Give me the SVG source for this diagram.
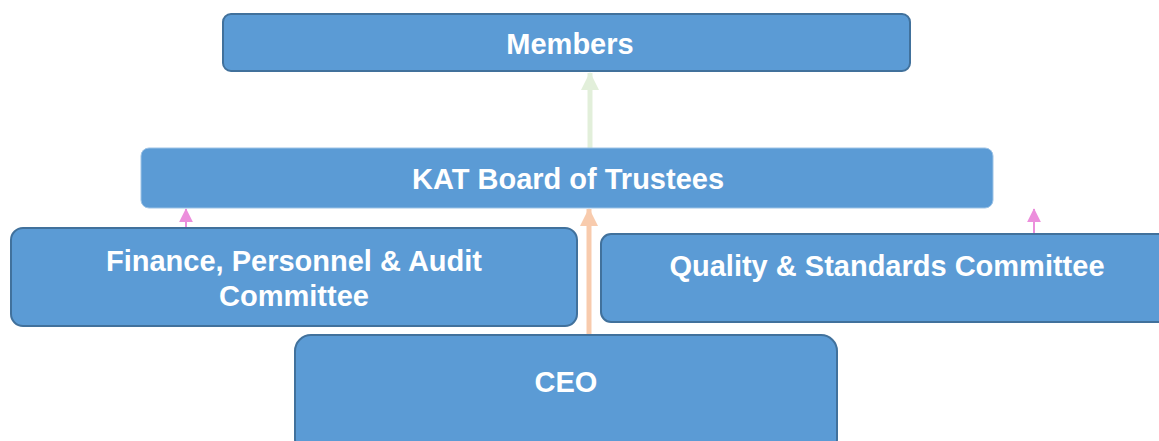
<svg xmlns="http://www.w3.org/2000/svg" width="1159" height="441" viewBox="0 0 1159 441">
<style>
.box{fill:#5b9bd5;stroke:#41719c;stroke-width:2}
.board{fill:#5b9bd5;stroke:#9dc3e6;stroke-width:1}
.t{font-family:"Liberation Sans",Arial,sans-serif;font-weight:bold;font-size:29px;fill:#fff;text-anchor:middle}
</style>
<defs>
<marker id="hg" markerWidth="3.6" markerHeight="3.6" refX="3.4" refY="1.8" orient="auto" markerUnits="strokeWidth" viewBox="0 0 3.6 3.6"><path d="M0,0L3.6,1.8L0,3.6z" fill="#e2efda"/></marker>
<marker id="ho" markerWidth="3.6" markerHeight="3.6" refX="3.4" refY="1.8" orient="auto" markerUnits="strokeWidth" viewBox="0 0 3.6 3.6"><path d="M0,0L3.6,1.8L0,3.6z" fill="#f8cbad"/></marker>
<marker id="hp" markerWidth="7" markerHeight="7" refX="6.6" refY="3.5" orient="auto" markerUnits="strokeWidth" viewBox="0 0 7 7"><path d="M0,0L7,3.5L0,7z" fill="#ec8fdc"/></marker>
</defs>
<g id="connectors">
<line x1="590" y1="148" x2="590" y2="73" stroke="#e2efda" stroke-width="5" marker-end="url(#hg)"/>
<line x1="589" y1="334" x2="589" y2="209" stroke="#f8cbad" stroke-width="5" marker-end="url(#ho)"/>
<line x1="186" y1="239" x2="186" y2="209" stroke="#ec8fdc" stroke-width="2" marker-end="url(#hp)"/>
<line x1="1034" y1="239" x2="1034" y2="209" stroke="#ec8fdc" stroke-width="2" marker-end="url(#hp)"/>
</g>
<g id="members"><rect class="box" x="223" y="14" width="687" height="57" rx="8"/><text class="t" x="570" y="54">Members</text></g>
<g id="board"><rect class="board" x="141" y="148" width="852" height="60" rx="8"/><text class="t" x="568" y="189">KAT Board of Trustees</text></g>
<g id="finance"><rect class="box" x="11" y="228" width="566" height="98" rx="12"/><text class="t" x="294" y="271">Finance, Personnel &amp; Audit</text><text class="t" x="294" y="306">Committee</text></g>
<g id="quality"><rect class="box" x="601" y="234" width="570" height="88" rx="10"/><text class="t" x="887" y="276">Quality &amp; Standards Committee</text></g>
<g id="ceo"><rect class="box" x="295" y="335" width="542" height="120" rx="16"/><text class="t" x="566" y="392">CEO</text></g>
</svg>
